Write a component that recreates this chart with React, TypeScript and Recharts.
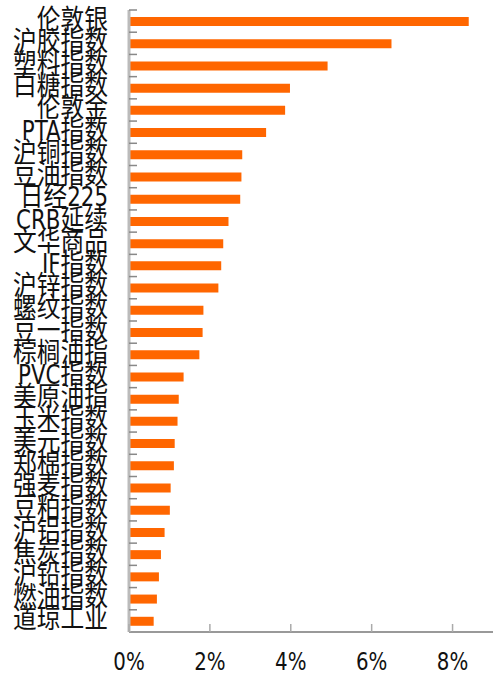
import { BarChart, Bar, XAxis, YAxis } from "recharts";

// categories, top to bottom
const names = [
  "伦敦银", "沪胶指数", "塑料指数", "白糖指数", "伦敦金", "PTA指数", "沪铜指数",
  "豆油指数", "日经225", "CRB延续", "文华商品", "IF指数", "沪锌指数", "螺纹指数",
  "豆一指数", "棕榈油指", "PVC指数", "美原油指", "玉米指数", "美元指数", "郑棉指数",
  "强麦指数", "豆粕指数", "沪铝指数", "焦炭指数", "沪铅指数", "燃油指数", "道琼工业",
];

// % change
const values = [
  8.4, 6.49, 4.91, 3.98, 3.86, 3.39, 2.8,
  2.78, 2.75, 2.46, 2.33, 2.28, 2.21, 1.84,
  1.82, 1.74, 1.35, 1.23, 1.2, 1.13, 1.11,
  1.03, 1.01, 0.88, 0.79, 0.74, 0.69, 0.61,
];

const xTicks = [0, 2, 4, 6, 8];

const data = names.map((name, i) => ({ name, value: values[i] }));

const W = 493;
const H = 676;
const TOP = 10;
const LEFT = 129;
const BOTTOM = 632;
const BAND = (BOTTOM - TOP) / names.length;
const FONT = "'Liberation Sans Narrow', 'DejaVu Sans Condensed', 'Noto Sans CJK SC', sans-serif";

function YTick(props: any) {
  const { y, payload } = props;
  const top = y - BAND / 2;
  return (
    <g>
      <line x1={LEFT} x2={LEFT + 8} y1={top} y2={top} stroke="#888" strokeWidth={1.5} />
      <g transform={`translate(108, ${y + 7.5}) scale(0.88, 1)`}>
        <text x={0} y={0} textAnchor="end" fontSize={27} fontFamily={FONT} fill="#111">
          {payload.value}
        </text>
      </g>
    </g>
  );
}

function XTick(props: any) {
  const { x, payload } = props;
  return (
    <g>
      <line x1={x} x2={x} y1={BOTTOM} y2={BOTTOM - 8} stroke="#aaa" strokeWidth={1.5} />
      <g transform={`translate(${x}, 670) scale(0.88, 1)`}>
        <text x={0} y={0} textAnchor="middle" fontSize={25} fontFamily={FONT} fill="#111">
          {`${payload.value}%`}
        </text>
      </g>
    </g>
  );
}

export default function App() {
  return (
    <div style={{ width: W, height: H }}>
      <style>{`body{margin:0;}`}</style>
      <BarChart
        width={W}
        height={H}
        data={data}
        layout="vertical"
        margin={{ top: TOP, right: 0, left: 0, bottom: 0 }}
        barCategoryGap={0}
      >
        <XAxis
          type="number"
          domain={[0, 9]}
          ticks={xTicks}
          height={H - BOTTOM}
          axisLine={{ stroke: "#999", strokeWidth: 2 }}
          tickLine={false}
          tick={<XTick />}
          interval={0}
        />
        <YAxis
          type="category"
          dataKey="name"
          width={LEFT}
          axisLine={{ stroke: "#bbb", strokeWidth: 3 }}
          tickLine={false}
          tick={<YTick />}
          interval={0}
        />
        <Bar dataKey="value" fill="#FF6600" barSize={9} isAnimationActive={false} />
      </BarChart>
    </div>
  );
}
